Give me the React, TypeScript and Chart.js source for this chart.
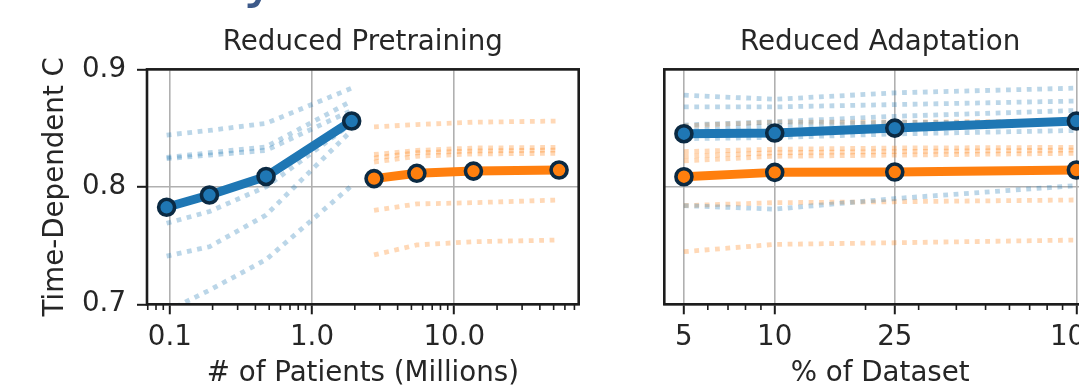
import React, { useEffect, useRef } from "react";
import { Chart, registerables } from "chart.js";

Chart.register(...registerables);

// ---------------- data ----------------
// Reduced Pretraining panel (x = # of patients, millions)
const pretrainBlueX = [0.095, 0.19, 0.475, 1.9];
const pretrainOrangeX = [2.73, 5.46, 13.65, 54.6];
const pretrainBlueMean = [0.7826, 0.793, 0.8088, 0.856];
const pretrainOrangeMean = [0.807, 0.8115, 0.8134, 0.8143];
const pretrainBlueTasks = [
  [0.844, 0.848, 0.854, 0.884],
  [0.825, 0.829, 0.834, 0.873],
  [0.824, 0.827, 0.831, 0.865],
  [0.769, 0.779, 0.8, 0.854],
  [0.741, 0.749, 0.776, 0.848],
  [0.694, 0.712, 0.738, 0.801],
];
const pretrainOrangeTasks = [
  [0.851, 0.853, 0.855, 0.856],
  [0.8275, 0.831, 0.833, 0.8336],
  [0.8245, 0.829, 0.8305, 0.8313],
  [0.821, 0.826, 0.828, 0.8285],
  [0.78, 0.7854, 0.7865, 0.7888],
  [0.742, 0.7505, 0.7533, 0.7547],
];

// Reduced Adaptation panel (x = % of dataset)
const adaptX = [5, 10, 25, 100];
const adaptBlueMean = [0.8452, 0.8458, 0.85, 0.856];
const adaptOrangeMean = [0.8086, 0.8123, 0.8126, 0.8143];
const adaptBlueTasks = [
  [0.878, 0.8745, 0.88, 0.884],
  [0.868, 0.868, 0.87, 0.873],
  [0.8526, 0.8554, 0.86, 0.865],
  [0.848, 0.852, 0.855, 0.854],
  [0.841, 0.842, 0.845, 0.848],
  [0.784, 0.781, 0.79, 0.801],
];
const adaptOrangeTasks = [
  [0.852, 0.855, 0.855, 0.856],
  [0.83, 0.832, 0.833, 0.8336],
  [0.826, 0.829, 0.83, 0.8313],
  [0.822, 0.826, 0.827, 0.8285],
  [0.784, 0.7865, 0.7873, 0.7888],
  [0.7448, 0.751, 0.7524, 0.7547],
];

// ticks
const yTickValues = [0.7, 0.8, 0.9];
const yTickLabels = ["0.7", "0.8", "0.9"];
const pretrainMajorTicks = [0.1, 1, 10];
const pretrainTickLabels = ["0.1", "1.0", "10.0"];
const pretrainMinorTicks = [
  0.07, 0.08, 0.09, 0.2, 0.3, 0.4, 0.5, 0.6, 0.7, 0.8, 0.9, 2, 3, 4, 5, 6, 7, 8, 9, 20, 30, 40, 50, 60, 70,
];
const adaptMajorTicks = [5, 10, 25, 100];
const adaptTickLabels = ["5", "10", "25", "100"];
const adaptMinorTicks = [6, 7, 8, 9, 20, 30, 40, 50, 60, 70, 80, 90];

// ---------------- style ----------------
const FONT = "'DejaVu Sans', sans-serif";
const TEXT = "#262626";
const SPINE = "#1c1c1c";
const GRID = "#b0b0b0";
const BLUE = "#1f77b4";
const ORANGE = "#ff7f0e";
const BLUE_FAINT = "rgba(31,119,180,0.3)";
const ORANGE_FAINT = "rgba(255,127,14,0.3)";
const EDGE = "#0b2a43";
const FS = 27.7;

const frameBox = {
  id: "frameBox",
  afterDatasetsDraw(chart: any) {
    const { ctx, chartArea: a } = chart;
    ctx.save();
    ctx.strokeStyle = SPINE;
    ctx.lineWidth = 2.6;
    ctx.strokeRect(a.left, a.top, a.right - a.left, a.bottom - a.top);
    ctx.restore();
  },
};

const minorTicks = {
  id: "minorTicks",
  afterDraw(chart: any, _args: any, opts: any) {
    const scale = chart.scales.x;
    const { ctx, chartArea } = chart;
    ctx.save();
    ctx.strokeStyle = SPINE;
    ctx.lineWidth = 1.6;
    ctx.beginPath();
    for (const v of opts.values || []) {
      if (v < scale.min || v > scale.max) continue;
      const px = scale.getPixelForValue(v);
      ctx.moveTo(px, chartArea.bottom);
      ctx.lineTo(px, chartArea.bottom + 5.7);
    }
    ctx.stroke();
    ctx.restore();
  },
};

const pts = (xs: number[], ys: number[]) => xs.map((x, i) => ({ x, y: ys[i] }));

const mainSet = (xs: number[], ys: number[], color: string) => ({
  data: pts(xs, ys),
  borderColor: color,
  backgroundColor: color,
  borderWidth: 9,
  borderJoinStyle: "round",
  borderCapStyle: "round",
  pointRadius: 8,
  pointBorderWidth: 3.6,
  pointBackgroundColor: color,
  pointBorderColor: EDGE,
  tension: 0,
  order: 0,
});

const taskSet = (xs: number[], ys: number[], color: string) => ({
  data: pts(xs, ys),
  borderColor: color,
  borderWidth: 4.8,
  borderDash: [4.8, 5.6],
  borderCapStyle: "butt",
  pointRadius: 0,
  tension: 0,
  order: 1,
});

function logBounds(minV: number, maxV: number) {
  const lo = Math.log10(minV);
  const hi = Math.log10(maxV);
  const m = (hi - lo) * 0.05;
  return { min: Math.pow(10, lo - m), max: Math.pow(10, hi + m) };
}

type PanelProps = {
  blueX: number[];
  orangeX: number[];
  blueMean: number[];
  orangeMean: number[];
  blueTasks: number[][];
  orangeTasks: number[][];
  majors: number[];
  majorLabels: string[];
  minors: number[];
  title: string;
  xTitle: string;
  showY: boolean;
  yAxisWidth: number;
  padRight: number;
  left: number;
  width: number;
};

function Panel(p: PanelProps) {
  const ref = useRef<HTMLCanvasElement | null>(null);
  useEffect(() => {
    if (!ref.current) return;
    const allX = [...p.blueX, ...p.orangeX];
    const b = logBounds(Math.min(...allX), Math.max(...allX));
    const datasets: any[] = [
      mainSet(p.blueX, p.blueMean, BLUE),
      mainSet(p.orangeX, p.orangeMean, ORANGE),
      ...p.blueTasks.map((t) => taskSet(p.blueX, t, BLUE_FAINT)),
      ...p.orangeTasks.map((t) => taskSet(p.orangeX, t, ORANGE_FAINT)),
    ];
    const chart = new Chart(ref.current, {
      type: "line",
      data: { datasets },
      plugins: [frameBox, minorTicks],
      options: {
        animation: false,
        responsive: false,
        devicePixelRatio: 1,
        events: [],
        layout: { padding: { left: 0, right: p.padRight, top: 0, bottom: 0 } },
        plugins: {
          legend: { display: false },
          tooltip: { enabled: false },
          title: {
            display: true,
            text: p.title,
            fullSize: false,
            color: TEXT,
            font: { family: FONT, size: FS, weight: "normal", lineHeight: 1.2 },
            padding: { top: 26.1, bottom: 10.0 },
          },
          minorTicks: { values: p.minors },
        } as any,
        scales: {
          x: {
            type: "logarithmic",
            bounds: "data",
            min: b.min,
            max: b.max,
            afterBuildTicks: (axis: any) => {
              axis.ticks = p.majors.map((v) => ({ value: v }));
            },
            afterFit: (axis: any) => {
              axis.height = 389 - 304.3;
            },
            ticks: {
              autoSkip: false,
              maxRotation: 0,
              minRotation: 0,
              padding: 6.5,
              color: TEXT,
              font: { family: FONT, size: FS },
              callback: (_v: any, i: number) => p.majorLabels[i],
            },
            grid: {
              color: GRID,
              lineWidth: 1.6,
              drawTicks: true,
              tickLength: 10,
              tickWidth: 2,
              tickColor: SPINE,
            },
            border: { display: false },
            title: {
              display: true,
              text: p.xTitle,
              color: TEXT,
              font: { family: FONT, size: FS, lineHeight: 1 },
              padding: { top: 0, bottom: 1 },
            },
          },
          y: {
            type: "linear",
            bounds: "data",
            min: 0.7,
            max: 0.9,
            afterBuildTicks: (axis: any) => {
              axis.ticks = yTickValues.map((v) => ({ value: v }));
            },
            afterFit: (axis: any) => {
              axis.width = p.yAxisWidth;
            },
            ticks: {
              display: p.showY,
              padding: 11,
              color: TEXT,
              font: { family: FONT, size: FS },
              callback: (_v: any, i: number) => yTickLabels[i],
            },
            grid: {
              color: GRID,
              lineWidth: 1.6,
              drawTicks: p.showY,
              tickLength: 10,
              tickWidth: 2,
              tickColor: SPINE,
            },
            border: { display: false },
            title: {
              display: p.showY,
              text: "Time-Dependent C",
              color: TEXT,
              font: { family: FONT, size: FS, lineHeight: 1 },
              padding: { top: 42, bottom: 0 },
            },
          },
        },
      } as any,
    });
    return () => chart.destroy();
  }, []);
  return (
    <canvas
      ref={ref}
      width={p.width}
      height={389}
      style={{ position: "absolute", left: p.left, top: 0, width: p.width, height: 389 }}
    />
  );
}

export default function App() {
  return (
    <div
      style={{
        position: "fixed",
        left: 0,
        top: 0,
        width: 1079,
        height: 389,
        overflow: "hidden",
        background: "#ffffff",
      }}
    >
      <div
        style={{
          position: "absolute",
          left: 243,
          top: -53,
          fontFamily: FONT,
          fontSize: 58,
          fontWeight: "normal",
          lineHeight: 1,
          color: "#3d5a8a",
          whiteSpace: "nowrap",
        }}
      >
        y
      </div>
      <Panel
        blueX={pretrainBlueX}
        orangeX={pretrainOrangeX}
        blueMean={pretrainBlueMean}
        orangeMean={pretrainOrangeMean}
        blueTasks={pretrainBlueTasks}
        orangeTasks={pretrainOrangeTasks}
        majors={pretrainMajorTicks}
        majorLabels={pretrainTickLabels}
        minors={pretrainMinorTicks}
        title="Reduced Pretraining"
        xTitle="# of Patients (Millions)"
        showY={true}
        yAxisWidth={147}
        padRight={600 - 578.7}
        left={0}
        width={600}
      />
      <Panel
        blueX={adaptX}
        orangeX={adaptX}
        blueMean={adaptBlueMean}
        orangeMean={adaptOrangeMean}
        blueTasks={adaptBlueTasks}
        orangeTasks={adaptOrangeTasks}
        majors={adaptMajorTicks}
        majorLabels={adaptTickLabels}
        minors={adaptMinorTicks}
        title="Reduced Adaptation"
        xTitle="% of Dataset"
        showY={false}
        yAxisWidth={64.3}
        padRight={44}
        left={600}
        width={540}
      />
    </div>
  );
}
